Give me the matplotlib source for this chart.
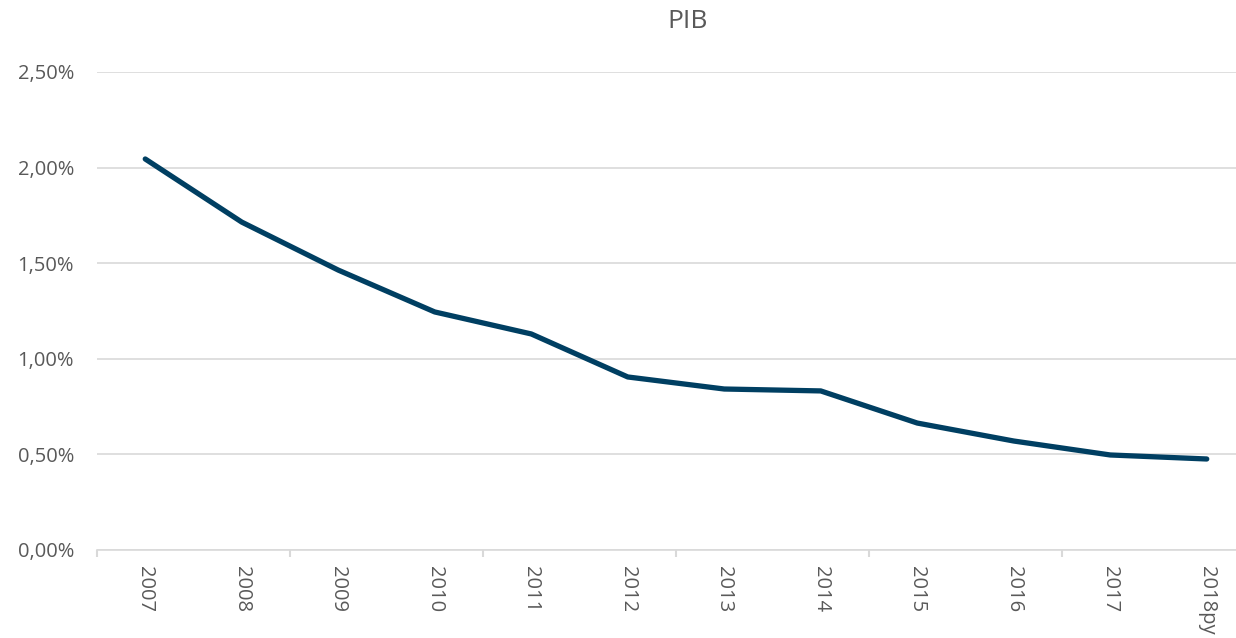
import matplotlib
matplotlib.use("Agg")
import matplotlib.pyplot as plt
from matplotlib.ticker import FuncFormatter, FixedLocator

categories = ["2007", "2008", "2009", "2010", "2011", "2012", "2013", "2014",
              "2015", "2016", "2017", "2018py"]
values = [2.045, 1.715, 1.464, 1.245, 1.13, 0.905, 0.842, 0.832, 0.664, 0.57, 0.497, 0.476]
yticks = [0.0, 0.5, 1.0, 1.5, 2.0, 2.5]

plt.rcParams['font.family'] = ['Open Sans', 'DejaVu Sans']
fig = plt.figure(figsize=(12.36, 6.38), dpi=100)
ax = fig.add_axes([97/1236, 1-550/638, (1255-97)/1236, (550-72)/638])

x = list(range(len(categories)))
ax.plot(x, values, color="#003F62", linewidth=3.8, solid_capstyle="round", solid_joinstyle="round", zorder=3)

ax.set_xlim(-0.5, len(categories)-0.5)
ax.set_ylim(0, 2.5)
ax.set_yticks(yticks)
ax.yaxis.set_major_formatter(FuncFormatter(lambda v, p: f"{v:.2f}%".replace(".", ",")))
ax.grid(axis="y", color="#D9D9D9", linewidth=1.2)
ax.set_axisbelow(True)
for s in ["top", "right", "left"]:
    ax.spines[s].set_visible(False)
ax.spines["bottom"].set_color("#D9D9D9")
ax.spines["bottom"].set_linewidth(1.2)
ax.tick_params(axis="y", length=0, pad=16.5, labelsize=14.5, labelcolor="#595959")

ax.set_xticks(x)
ax.set_xticklabels(categories, rotation=270, fontsize=14.5, color="#595959")
ax.tick_params(axis="x", which="major", length=0, pad=11.5)
ax.xaxis.set_minor_locator(FixedLocator([i - 0.5 for i in range(0, len(categories), 2)]))
ax.tick_params(axis="x", which="minor", length=5, color="#D9D9D9", width=1.5)

fig.text(688/1236, 1-22/638, "PIB", ha="center", va="center", fontsize=19, color="#595959")

fig.savefig("out.png", dpi=100, facecolor="white")
